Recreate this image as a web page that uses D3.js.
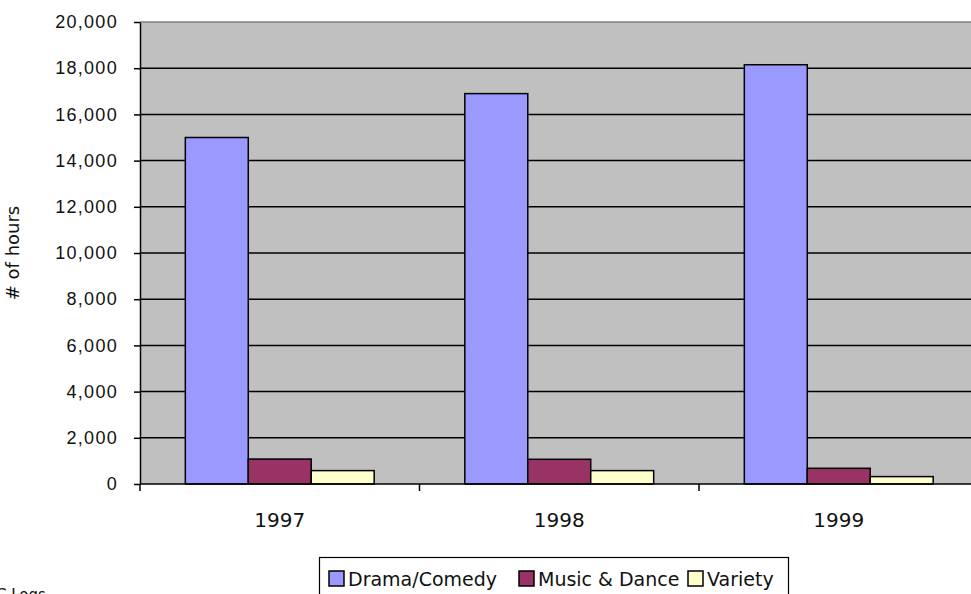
<!DOCTYPE html>
<meta charset="utf-8">
<style>
body { margin: 0; background: #fff; }
svg { display: block; font-family: "DejaVu Sans", Verdana, sans-serif; }
.grid line { stroke: #000; stroke-width: 1.5px; }
.axis path, .axis line { stroke: #000; stroke-width: 1.5px; }
.axis text { fill: #111; }
.bar { stroke: #000; stroke-width: 1.5px; }
</style>
<svg width="971" height="594"></svg>
<script src="https://d3js.org/d3.v7.min.js"></script>
<script>

var years = ["1997", "1998", "1999"];
var series = ["Drama/Comedy", "Music & Dance", "Variety"];
var drama = [15000, 16900, 18150];
var music = [1080, 1070, 680];
var variety = [580, 580, 320];
var yTicks = [0, 2000, 4000, 6000, 8000, 10000, 12000, 14000, 16000, 18000, 20000];
var colors = ["#9999ff", "#993366", "#ffffcc"];

var values = [drama, music, variety];

var svg = d3.select("svg"),
    plotLeft = 140,
    plotTop = 22,
    plotBottom = 484,
    step = 279.5,
    plotRight = plotLeft + step * years.length;

var x0 = d3.scaleBand().domain(years).range([plotLeft, plotRight]).padding(0);
var x1 = d3.scaleBand().domain(series).range([0, x0.bandwidth()])
    .paddingInner(0).paddingOuter(0.72);
var y = d3.scaleLinear().domain([0, 20000]).range([plotBottom, plotTop]);

// plot area
svg.append("rect")
    .attr("x", plotLeft).attr("y", plotTop)
    .attr("width", plotRight - plotLeft).attr("height", plotBottom - plotTop)
    .attr("fill", "#c0c0c0");
svg.append("line")
    .attr("x1", plotLeft).attr("x2", plotRight)
    .attr("y1", plotTop).attr("y2", plotTop)
    .attr("stroke", "#808080").attr("stroke-width", 1.5);

// gridlines
svg.append("g").attr("class", "grid")
  .selectAll("line")
  .data(yTicks.filter(function(d) { return d > 0 && d < 20000; }))
  .enter().append("line")
    .attr("x1", plotLeft).attr("x2", plotRight)
    .attr("y1", function(d) { return y(d); })
    .attr("y2", function(d) { return y(d); });

// bars
var rows = years.map(function(yr, i) {
  return { year: yr, vals: series.map(function(s, j) { return { s: s, v: values[j][i], c: colors[j] }; }) };
});

svg.append("g").selectAll("g")
  .data(rows)
  .enter().append("g")
    .attr("transform", function(d) { return "translate(" + x0(d.year) + ",0)"; })
  .selectAll("rect")
  .data(function(d) { return d.vals; })
  .enter().append("rect")
    .attr("class", "bar")
    .attr("x", function(d) { return x1(d.s); })
    .attr("width", x1.bandwidth())
    .attr("y", function(d) { return y(d.v); })
    .attr("height", function(d) { return plotBottom - y(d.v); })
    .attr("fill", function(d) { return d.c; });

// y axis
var yAxis = svg.append("g").attr("class", "axis")
    .attr("transform", "translate(" + plotLeft + ",0)")
    .call(d3.axisLeft(y).tickValues(yTicks).tickSize(6).tickPadding(16)
      .tickSizeOuter(0).tickFormat(d3.format(",")));
yAxis.selectAll("text").style("font-size", "18px").attr("letter-spacing", "1.3px");

// x axis
var xAxis = svg.append("g").attr("class", "axis")
    .attr("transform", "translate(0," + plotBottom + ")");
xAxis.append("line").attr("x1", plotLeft).attr("x2", plotRight);
xAxis.selectAll(".tk")
  .data(years)
  .enter().append("line")
    .attr("x1", function(d) { return x0(d); })
    .attr("x2", function(d) { return x0(d); })
    .attr("y1", 0).attr("y2", 7);
xAxis.selectAll(".lbl")
  .data(years)
  .enter().append("text")
    .attr("x", function(d) { return x0(d) + x0.bandwidth() / 2; })
    .attr("y", 43)
    .attr("text-anchor", "middle")
    .style("font-size", "20px")
    .text(function(d) { return d; });

// y axis title
svg.append("text")
    .attr("transform", "translate(19,253) rotate(-90)")
    .attr("text-anchor", "middle")
    .style("font-size", "18px")
    .attr("fill", "#111")
    .text("# of hours");

// legend
var legend = svg.append("g");
legend.append("rect")
    .attr("x", 319.5).attr("y", 557.5)
    .attr("width", 469).attr("height", 50)
    .attr("fill", "#fff").attr("stroke", "#000").attr("stroke-width", 1.2);
var legX = [329, 519, 688];
var item = legend.selectAll(".item")
  .data(series)
  .enter().append("g")
    .attr("transform", function(d, i) { return "translate(" + legX[i] + ",571)"; });
item.append("rect")
    .attr("width", 15).attr("height", 15)
    .attr("fill", function(d, i) { return colors[i]; })
    .attr("stroke", "#000").attr("stroke-width", 1.5);
item.append("text")
    .attr("x", 19).attr("y", 15)
    .style("font-size", "19px")
    .attr("fill", "#111")
    .text(function(d) { return d; });

// source note, cut by the frame
svg.append("text")
    .attr("x", -4).attr("y", 600)
    .style("font-size", "15px")
    .attr("fill", "#111")
    .text("C Logs");

</script>
